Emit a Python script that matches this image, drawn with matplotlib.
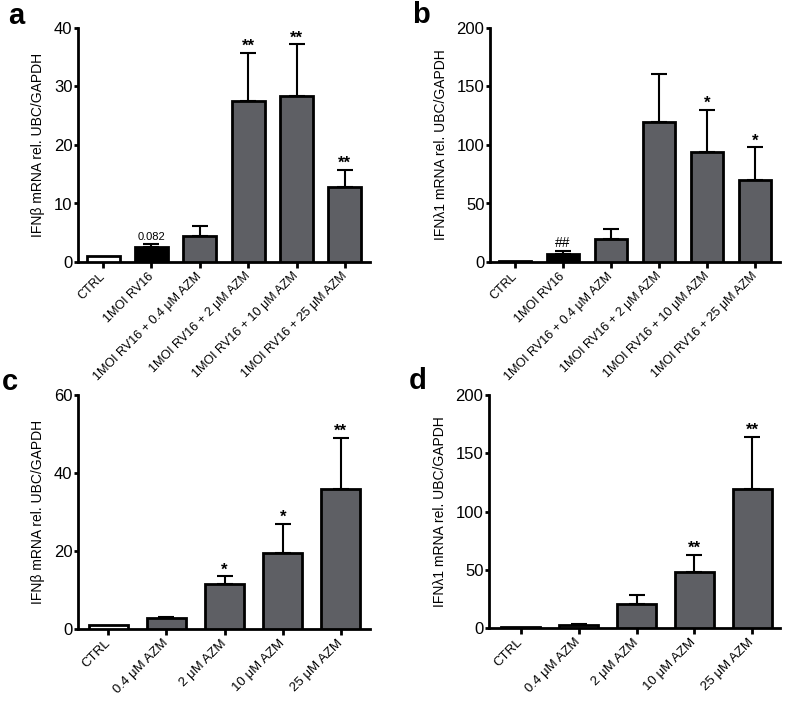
import matplotlib
matplotlib.use("Agg")
import matplotlib.pyplot as plt
import numpy as np

plt.rcParams['font.family'] = ['Liberation Sans', 'DejaVu Sans']

# ---- data ----
cats_ab = ["CTRL", "1MOI RV16", "1MOI RV16 + 0.4 μM AZM", "1MOI RV16 + 2 μM AZM",
           "1MOI RV16 + 10 μM AZM", "1MOI RV16 + 25 μM AZM"]
cats_cd = ["CTRL", "0.4 μM AZM", "2 μM AZM", "10 μM AZM", "25 μM AZM"]

a_vals = [1.0, 2.5, 4.4, 27.6, 28.3, 12.8]
a_err = [0.0, 0.5, 1.7, 8.2, 8.9, 3.0]
a_sig = ["", "0.082", "", "**", "**", "**"]

b_vals = [1.0, 7.0, 20.0, 120.0, 94.0, 70.0]
b_err = [0.0, 2.5, 8.0, 41.0, 36.0, 28.0]
b_sig = ["", "##", "", "", "*", "*"]

c_vals = [1.0, 2.7, 11.5, 19.6, 36.0]
c_err = [0.0, 0.5, 2.0, 7.4, 13.0]
c_sig = ["", "", "*", "*", "**"]

d_vals = [1.0, 3.0, 21.0, 48.0, 119.0]
d_err = [0.0, 0.4, 7.0, 15.0, 45.0]
d_sig = ["", "", "", "**", "**"]

GRAY = "#5e5f64"

W, H = 787, 701
fig = plt.figure(figsize=(W / 100, H / 100), dpi=100)


def make_ax(l, r, t, b):
    return fig.add_axes([l / W, 1 - b / H, (r - l) / W, (b - t) / H])


def panel(ax, cats, vals, errs, sigs, colors, ymax, yticks, ylabel, width, xlim, xfs):
    x = np.arange(len(cats))
    ax.bar(x, vals, width=width, color=colors, edgecolor="black", linewidth=2.0, zorder=3)
    for xi, v, e in zip(x, vals, errs):
        if e > 0:
            ax.errorbar(xi, v, yerr=[[0], [e]], fmt="none", ecolor="black",
                        elinewidth=1.5, capsize=6, capthick=1.5, zorder=2)
    for xi, v, e, s in zip(x, vals, errs, sigs):
        if s:
            if s[0].isdigit():
                ax.text(xi, v + e + ymax * 0.012, s, ha="center", va="bottom", fontsize=8)
            elif s[0] == "#":
                ax.text(xi, v + e + ymax * 0.005, s, ha="center", va="bottom", fontsize=10)
            else:
                ax.text(xi, v + e - ymax * 0.005, s, ha="center", va="bottom",
                        fontsize=12, fontweight="bold")
    ax.set_xlim(*xlim)
    ax.set_ylim(0, ymax)
    ax.set_yticks(yticks)
    ax.set_xticks(x)
    ax.set_xticklabels(cats, rotation=45, ha="right", va="center",
                       rotation_mode="anchor", fontsize=xfs)
    ax.tick_params(axis="y", labelsize=12, width=2, length=3, pad=1)
    ax.tick_params(axis="x", width=2, length=4, pad=5)
    for sp in ["top", "right"]:
        ax.spines[sp].set_visible(False)
    for sp in ["left", "bottom"]:
        ax.spines[sp].set_linewidth(2)
    ax.set_ylabel(ylabel, fontsize=10, labelpad=6)


col_ab = ["white", "black", GRAY, GRAY, GRAY, GRAY]
col_cd = ["white", GRAY, GRAY, GRAY, GRAY]

ax_a = make_ax(78, 370, 28, 262)
panel(ax_a, cats_ab, a_vals, a_err, a_sig, col_ab, 40, [0, 10, 20, 30, 40],
      "IFNβ mRNA rel. UBC/GAPDH", 0.68, (-0.52, 5.52), 9)

ax_b = make_ax(490, 780, 28, 262)
panel(ax_b, cats_ab, b_vals, b_err, b_sig, col_ab, 200, [0, 50, 100, 150, 200],
      "IFNλ1 mRNA rel. UBC/GAPDH", 0.68, (-0.52, 5.52), 9)

ax_c = make_ax(78, 370, 395, 629)
panel(ax_c, cats_cd, c_vals, c_err, c_sig, col_cd, 60, [0, 20, 40, 60],
      "IFNβ mRNA rel. UBC/GAPDH", 0.67, (-0.52, 4.5), 9.5)

ax_d = make_ax(489, 780, 395, 628)
panel(ax_d, cats_cd, d_vals, d_err, d_sig, col_cd, 200, [0, 50, 100, 150, 200],
      "IFNλ1 mRNA rel. UBC/GAPDH", 0.67, (-0.55, 4.48), 9.5)

for letter, (px, py) in zip("abcd", [(16, 16), (421, 15), (10, 382), (418, 381)]):
    fig.text(px / W, 1 - py / H, letter, fontsize=21, fontweight="bold",
             ha="center", va="center")

fig.savefig("out.png", dpi=100)
